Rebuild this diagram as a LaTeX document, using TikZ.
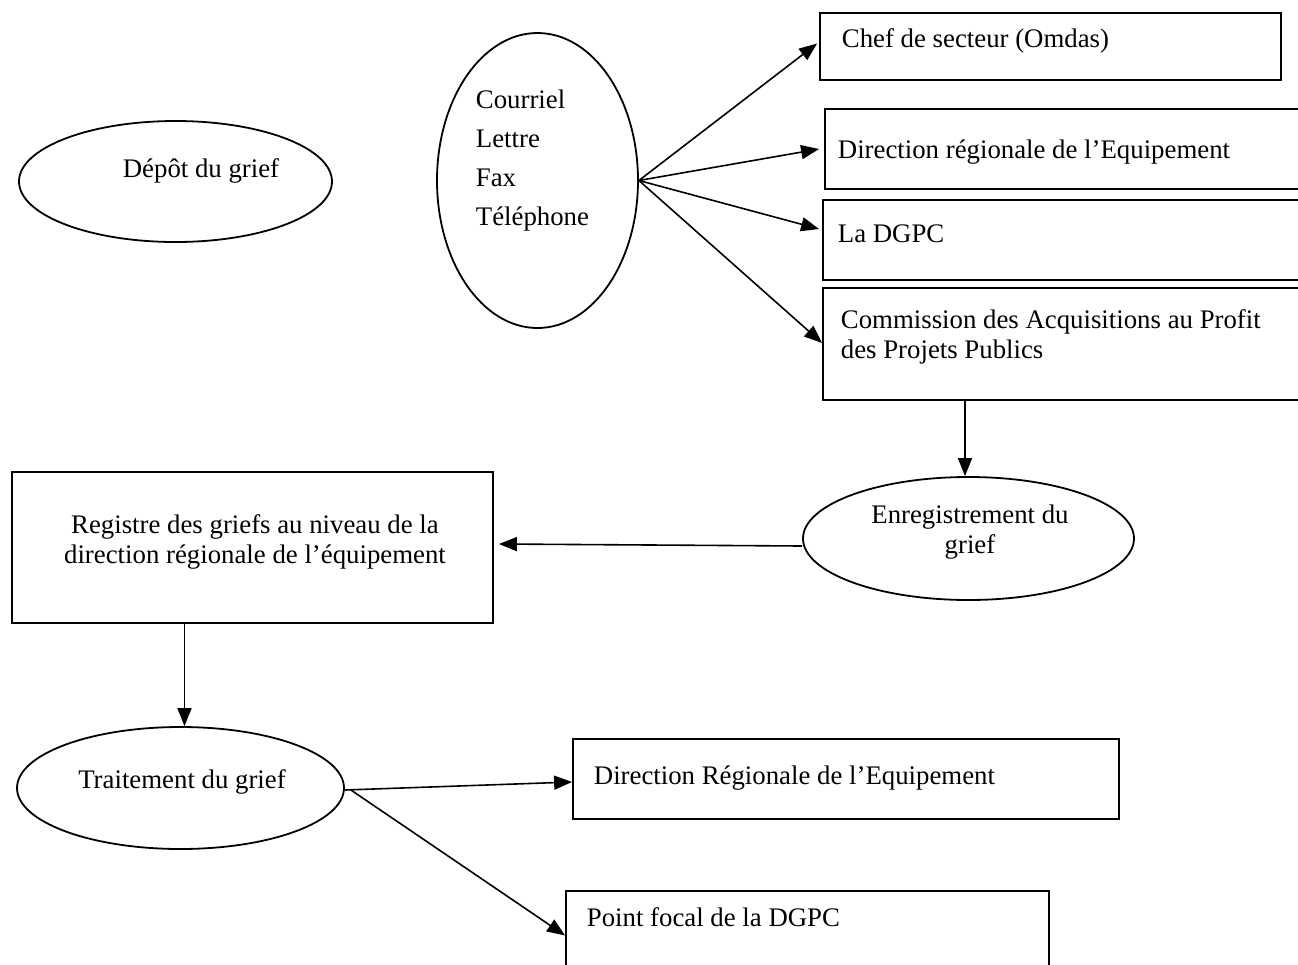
\documentclass[tikz,border=0pt]{standalone}
\usepackage{fontspec}
\setmainfont{Liberation Serif}
\usetikzlibrary{shapes.geometric,arrows.meta,calc}
\begin{document}
\begin{tikzpicture}[x=0.5pt,y=-0.5pt,
  line width=0.9pt,
  oval/.style={draw,ellipse,inner sep=0pt},
  box/.style={draw,rectangle,inner sep=0pt},
  txt/.style={inner sep=0pt,font=\fontsize{13.4}{15}\selectfont},
  arr/.style={-{Triangle[length=9pt,width=7pt]},line width=0.8pt}]
\useasboundingbox (0,0) rectangle (1298,965);
\clip (0,0) rectangle (1298,965);
% ellipses
\node[oval,minimum width=156.5pt,minimum height=60.5pt] (dep) at (175.5,181.5) {};
\node[txt] (deptxt) at (201,171) {Dépôt du grief};
\node[oval,minimum width=100.5pt,minimum height=147.5pt] (cour) at (537.5,180.5) {};
\node[txt,anchor=west,align=left,font=\fontsize{13.4}{19.5}\selectfont] (courtxt) at (475,161) {Courriel\\Lettre\\Fax\\Téléphone};
% right boxes
\node[box,minimum width=230.5pt,minimum height=33.5pt] (chef) at (1050.5,46.5) {};
\node[txt,anchor=west] (cheftxt) at (841,41) {Chef de secteur (Omdas)};
\node[box,minimum width=247.5pt,minimum height=40pt] (dir) at (1072.5,149) {};
\node[txt,anchor=west] (dirtxt) at (837,152) {Direction régionale de l’Equipement};
\node[box,minimum width=248.5pt,minimum height=40pt] (dgpc) at (1071.5,240) {};
\node[txt,anchor=west] (dgpctxt) at (837,234) {La DGPC};
\node[box,minimum width=248.5pt,minimum height=56pt] (comm) at (1071.5,344) {};
\node[txt,anchor=west,align=left] (commtxt) at (840,337) {Commission des Acquisitions au Profit\\des Projets Publics};
% middle
\node[oval,minimum width=165.5pt,minimum height=61.5pt] (enr) at (968.5,538.5) {};
\node[txt,align=center] (enrtxt) at (970,532) {Enregistrement du\\grief};
\node[box,minimum width=240.5pt,minimum height=75.5pt] (reg) at (252.5,547.5) {};
\node[txt,align=center] (regtxt) at (255,542) {Registre des griefs au niveau de la\\direction régionale de l’équipement};
% bottom
\node[oval,minimum width=163.5pt,minimum height=61pt] (trait) at (180.5,788) {};
\node[txt] (traittxt) at (182,782) {Traitement du grief};
\node[box,minimum width=273pt,minimum height=40pt] (dr) at (846,779) {};
\node[txt,anchor=west] (drtxt) at (593,778) {Direction Régionale de l’Equipement};
\node[box,minimum width=241.5pt,minimum height=54.5pt] (pf) at (807.5,945.5) {};
\node[txt,anchor=west] (pftxt) at (586,917) {Point focal de la DGPC};
% connectors
\draw[arr] (cour.east) -- ([xshift=-1pt,yshift=1.5pt]chef.west);
\draw[arr] (cour.east) -- ([xshift=-2.5pt]dir.west);
\draw[arr] (cour.east) -- ([xshift=-1.5pt,yshift=5.5pt]dgpc.west);
\draw[arr] (cour.east) -- ([yshift=0.5pt]comm.west);
\draw[arr] ([xshift=-1.75pt]enr.north |- comm.south) -- ([xshift=-1.75pt]enr.north);
\draw[arr] ([yshift=-3.75pt]enr.west) -- ([xshift=2.5pt,yshift=1.75pt]reg.east);
\draw[arr] ([xshift=2pt]trait.north |- reg.south) -- ([xshift=2pt]trait.north);
\draw[arr] ([yshift=-1pt]trait.east) -- ([yshift=-1.5pt]dr.west);
\draw[arr] ([xshift=3pt,yshift=-1pt]trait.east) -- ([yshift=5pt]pf.west);
\end{tikzpicture}
\end{document}
